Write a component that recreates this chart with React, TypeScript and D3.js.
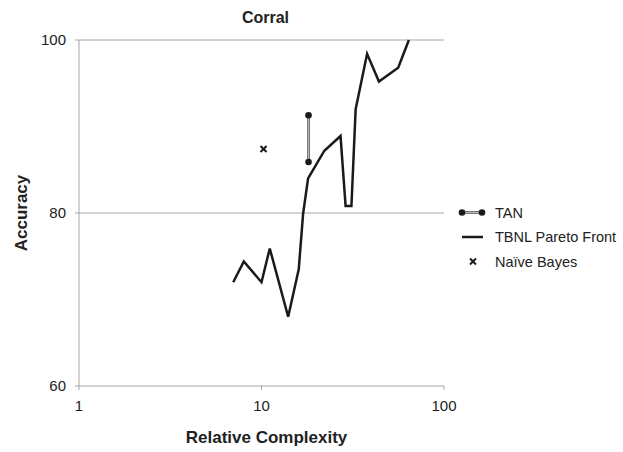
import React from "react";
import * as d3 from "d3";

const paretoComplexity = [7.0, 8.0, 10.0, 11.1, 14.0, 16.0, 16.9, 18.0, 22.1, 27.1, 28.9, 31.1, 32.8, 37.9, 44.0, 56.1, 64.2];
const paretoAccuracy = [72.0, 74.4, 72.0, 75.9, 68.0, 73.5, 79.9, 84.0, 87.2, 88.9, 80.8, 80.8, 92.0, 98.4, 95.2, 96.8, 100.0];
const tanComplexity = [18.1, 18.1];
const tanAccuracy = [91.3, 85.9];
const nbComplexity = [10.26];
const nbAccuracy = [87.4];
const xTicks = [1, 10, 100];
const yTicks = [60, 80, 100];
const legendLabels = ["TAN", "TBNL Pareto Front", "Naïve Bayes"];

export default function App() {
  const W = 623, H = 452;
  const left = 79, right = 444, top = 40, bottom = 386;
  const x = d3.scaleLog().domain([1, 100]).range([left, right]);
  const y = d3.scaleLinear().domain([60, 100]).range([bottom, top]);
  const line = d3.line<number>().x((_, i) => x(paretoComplexity[i])).y((d) => y(d));
  const font = "'Liberation Sans', Arial, sans-serif";
  const grey = "#a6a6a6";
  const lx = 462, ly0 = 212.5, lstep = 24.5;
  return (
    <svg width={W} height={H} style={{ position: "absolute", left: 0, top: 0 }} fontFamily={font}>
      <rect x={0} y={0} width={W} height={H} fill="#fff" />
      {yTicks.map((t) => (
        <g key={t}>
          <line x1={left - 4} x2={right} y1={y(t)} y2={y(t)} stroke={grey} strokeWidth={1} />
          <text x={left - 13} y={y(t)} dy="0.35em" textAnchor="end" fontSize={15} fill="#222">{t}</text>
        </g>
      ))}
      <line x1={left} x2={left} y1={top} y2={bottom} stroke={grey} strokeWidth={1} />
      {xTicks.map((t) => (
        <g key={t}>
          <line x1={x(t)} x2={x(t)} y1={bottom} y2={bottom + 4} stroke={grey} strokeWidth={1} />
          <text x={x(t)} y={bottom + 25} textAnchor="middle" fontSize={15} fill="#222">{t}</text>
        </g>
      ))}
      <text x={(left + right) / 2 + 4} y={23} textAnchor="middle" fontSize={16} fontWeight="bold" fill="#222">Corral</text>
      <text x={(left + right) / 2 + 5} y={443} textAnchor="middle" fontSize={17} fontWeight="bold" fill="#222">Relative Complexity</text>
      <text transform={`translate(27,${y(80)}) rotate(-90)`} textAnchor="middle" fontSize={17} fontWeight="bold" fill="#222">Accuracy</text>
      <path d={line(paretoAccuracy) || ""} fill="none" stroke="#1a1a1a" strokeWidth={2.5} strokeLinejoin="miter" />
      <line x1={x(tanComplexity[0])} x2={x(tanComplexity[1])} y1={y(tanAccuracy[0])} y2={y(tanAccuracy[1])} stroke="#555" strokeWidth={2.6} />
      <line x1={x(tanComplexity[0])} x2={x(tanComplexity[1])} y1={y(tanAccuracy[0])} y2={y(tanAccuracy[1])} stroke="#bbb" strokeWidth={1} />
      {tanAccuracy.map((a, i) => (
        <circle key={i} cx={x(tanComplexity[i])} cy={y(a)} r={3.3} fill="#1a1a1a" />
      ))}
      {nbAccuracy.map((a, i) => {
        const cx = x(nbComplexity[i]), cy = y(a), s = 3;
        return (
          <g key={i} stroke="#1a1a1a" strokeWidth={2}>
            <line x1={cx - s} x2={cx + s} y1={cy - s} y2={cy + s} />
            <line x1={cx - s} x2={cx + s} y1={cy + s} y2={cy - s} />
          </g>
        );
      })}
      {/* legend */}
      <line x1={lx} x2={lx + 20} y1={ly0} y2={ly0} stroke="#555" strokeWidth={2.6} />
      <line x1={lx} x2={lx + 20} y1={ly0} y2={ly0} stroke="#bbb" strokeWidth={1} />
      <circle cx={lx} cy={ly0} r={3.3} fill="#1a1a1a" />
      <circle cx={lx + 20} cy={ly0} r={3.3} fill="#1a1a1a" />
      <line x1={lx} x2={lx + 21} y1={ly0 + lstep} y2={ly0 + lstep} stroke="#1a1a1a" strokeWidth={2.5} />
      <g stroke="#1a1a1a" strokeWidth={2}>
        <line x1={lx + 8} x2={lx + 14} y1={ly0 + 2 * lstep - 3} y2={ly0 + 2 * lstep + 3} />
        <line x1={lx + 8} x2={lx + 14} y1={ly0 + 2 * lstep + 3} y2={ly0 + 2 * lstep - 3} />
      </g>
      {legendLabels.map((l, i) => (
        <text key={l} x={495} y={ly0 + i * lstep} dy="0.35em" fontSize={14.5} fill="#222">{l}</text>
      ))}
    </svg>
  );
}
